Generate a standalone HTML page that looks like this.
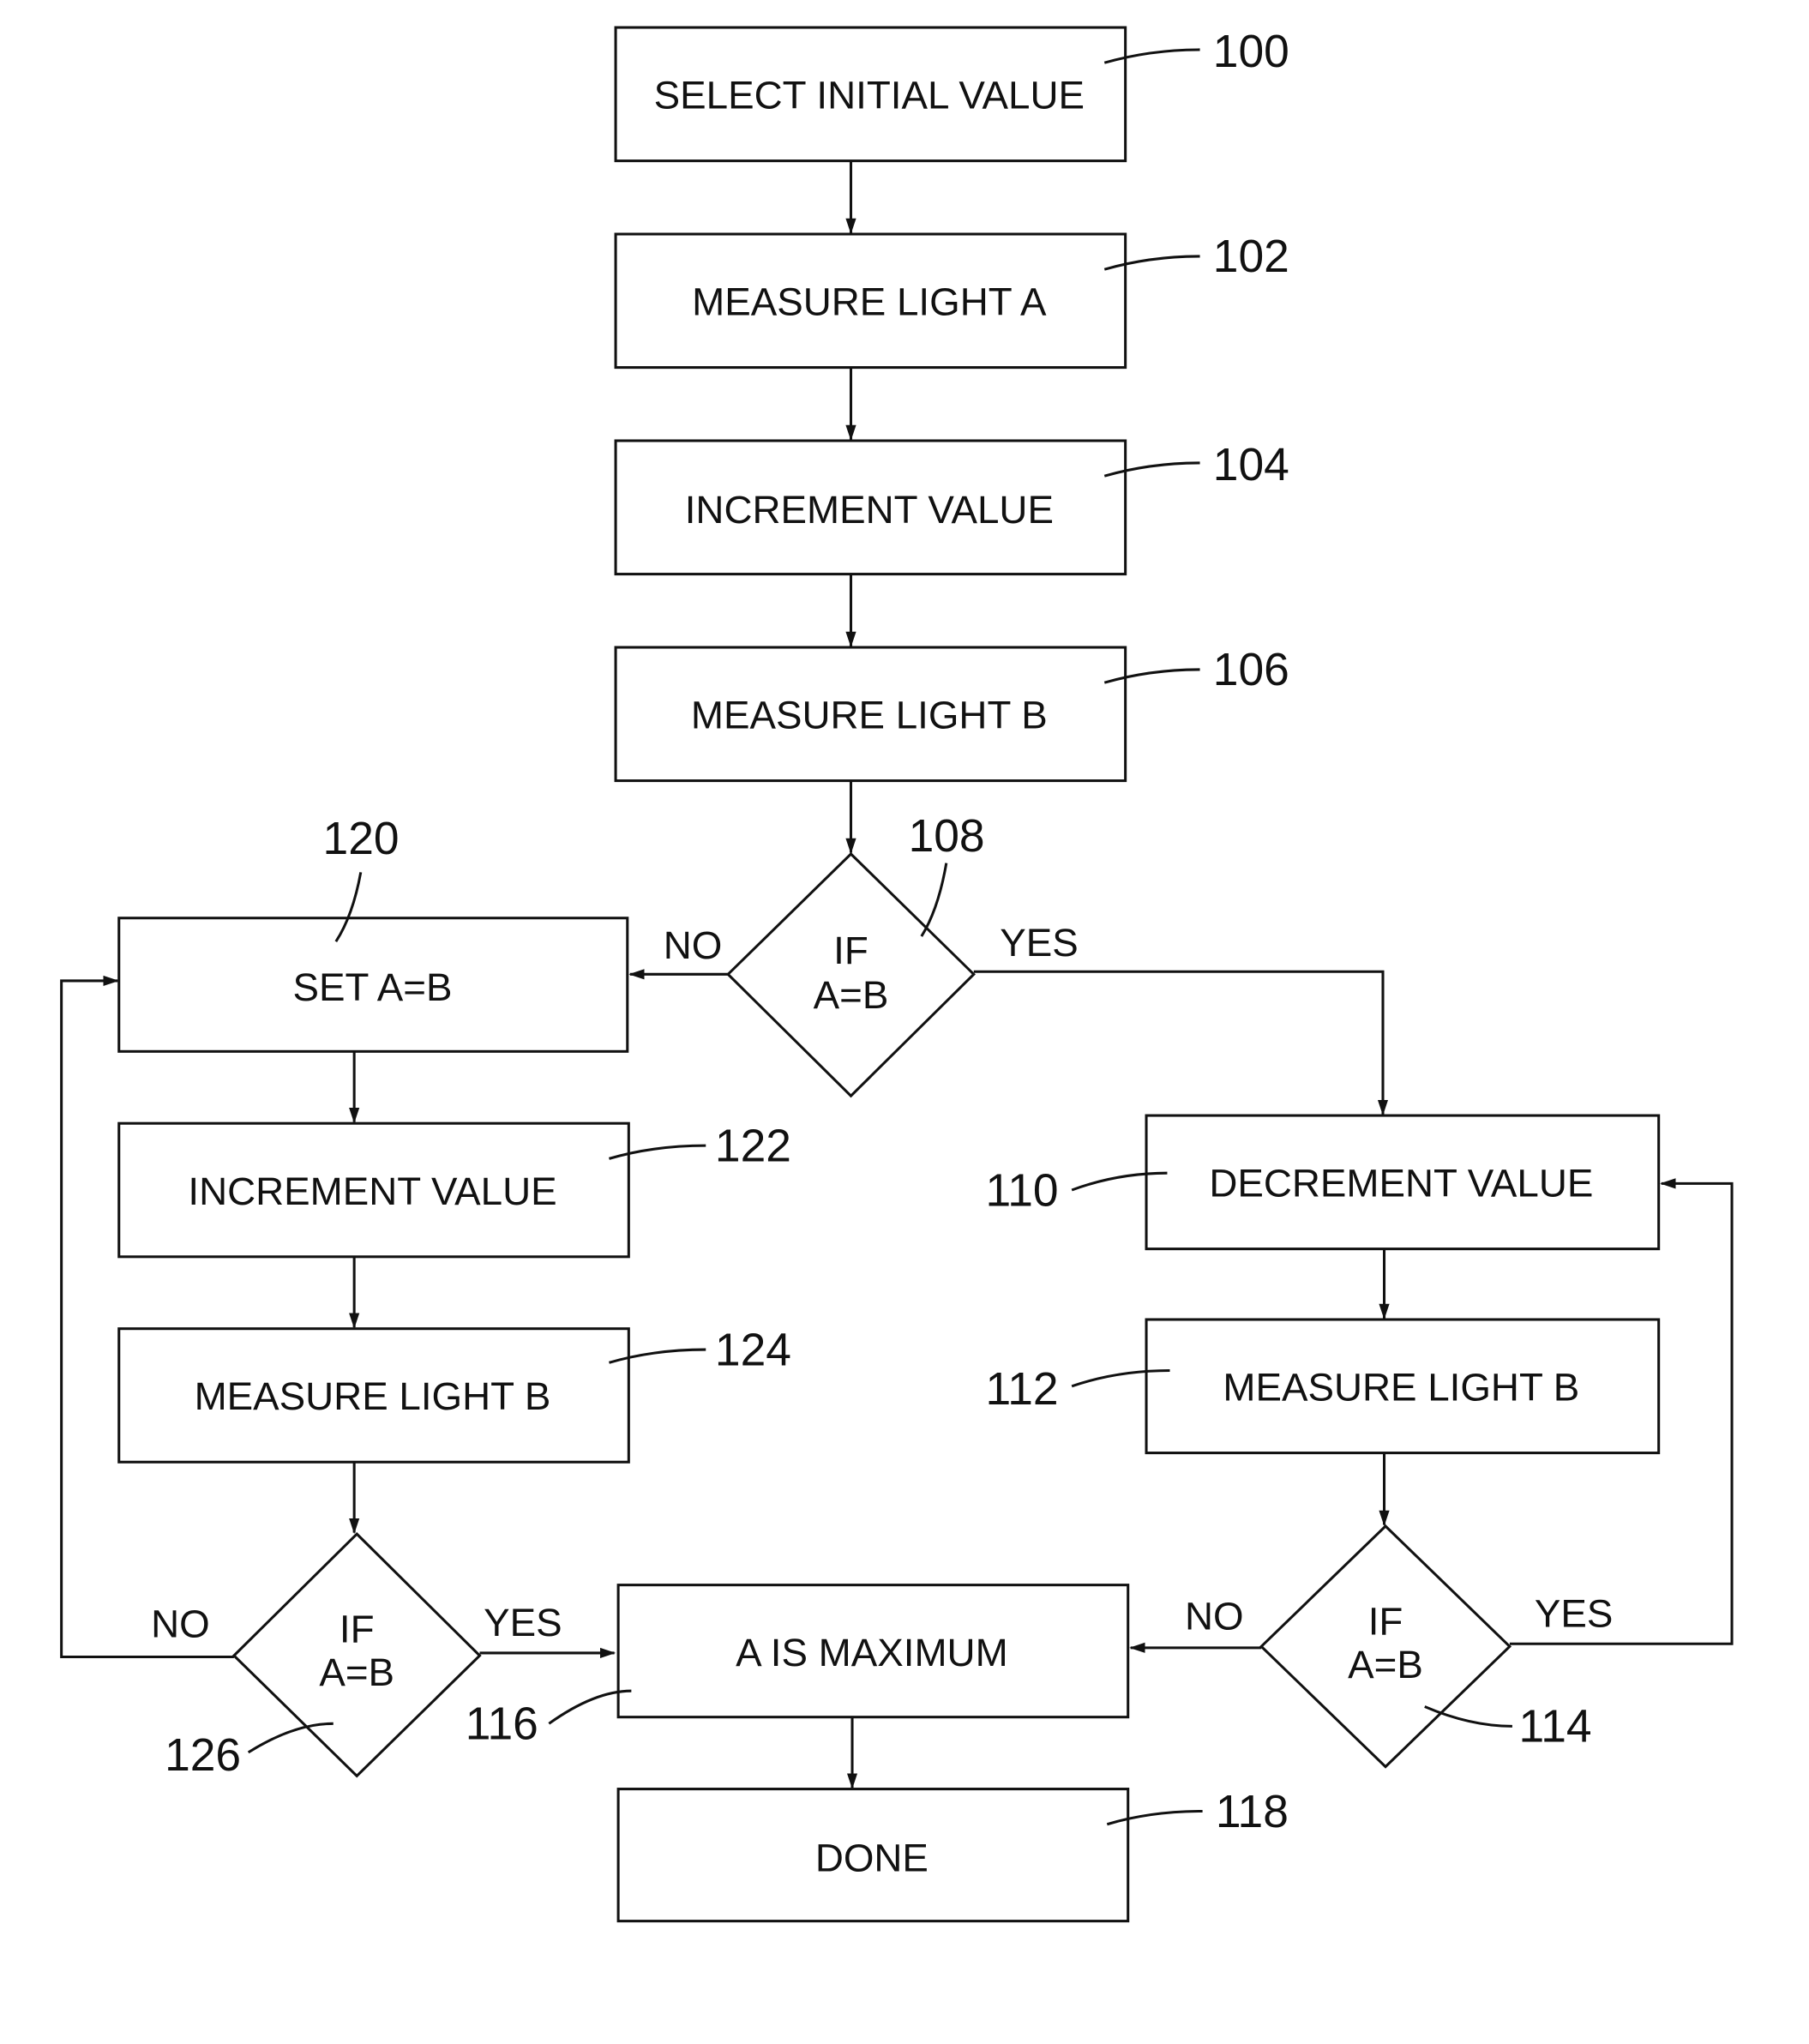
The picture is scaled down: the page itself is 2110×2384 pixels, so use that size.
<!DOCTYPE html>
<html><head><meta charset="utf-8"><style>
html,body{margin:0;padding:0;background:#fff;}
svg{display:block;}
text{font-family:"Liberation Sans",Arial,sans-serif;fill:#111;}
.t{font-size:30px;text-anchor:middle;}
.n{font-size:35px;}
</style></head><body>
<svg width="2110" height="2384" viewBox="0 0 1384 1563" preserveAspectRatio="none" xmlns="http://www.w3.org/2000/svg">
<defs><marker id="a" markerWidth="12" markerHeight="10" refX="11" refY="5" orient="auto" markerUnits="userSpaceOnUse"><path d="M0,1 L12,5 L0,9 Z" fill="#111"/></marker></defs>
<g fill="none" stroke="#111" stroke-width="2">
<rect x="471" y="21" width="390" height="102"/>
<rect x="471" y="179" width="390" height="102"/>
<rect x="471" y="337" width="390" height="102"/>
<rect x="471" y="495" width="390" height="102"/>
<polygon points="651,653 745,745 651,838 557,745"/>
<rect x="91" y="702" width="389" height="102"/>
<rect x="91" y="859" width="390" height="102"/>
<rect x="91" y="1016" width="390" height="102"/>
<polygon points="273,1173 367,1266 273,1358 179,1266"/>
<rect x="473" y="1212" width="390" height="101"/>
<rect x="473" y="1368" width="390" height="101"/>
<rect x="877" y="853" width="392" height="102"/>
<rect x="877" y="1009" width="392" height="102"/>
<polygon points="1060,1167 1155,1259 1060,1351 965,1259"/>
</g>
<g fill="none" stroke="#111" stroke-width="2" marker-end="url(#a)">
<line x1="651" y1="123" x2="651" y2="178"/>
<line x1="651" y1="281" x2="651" y2="336"/>
<line x1="651" y1="439" x2="651" y2="494"/>
<line x1="651" y1="597" x2="651" y2="652"/>
<line x1="557" y1="745" x2="482" y2="745"/>
<polyline points="745,743 1058,743 1058,852"/>
<line x1="271" y1="804" x2="271" y2="858"/>
<line x1="271" y1="961" x2="271" y2="1015"/>
<line x1="271" y1="1118" x2="271" y2="1172"/>
<polyline points="179,1267 47,1267 47,750 90,750"/>
<line x1="367" y1="1264" x2="470" y2="1264"/>
<line x1="965" y1="1260" x2="865" y2="1260"/>
<polyline points="1155,1257 1325,1257 1325,905 1271,905"/>
<line x1="1059" y1="955" x2="1059" y2="1008"/>
<line x1="1059" y1="1111" x2="1059" y2="1166"/>
<line x1="652" y1="1313" x2="652" y2="1367"/>
</g>
<g fill="none" stroke="#111" stroke-width="2">
<path d="M845,48 Q880,38 918,38"/>
<path d="M845,206 Q880,196 918,196"/>
<path d="M845,364 Q880,354 918,354"/>
<path d="M845,522 Q880,512 918,512"/>
<path d="M276,667 Q270,700 257,720"/>
<path d="M724,660 Q718,695 705,716"/>
<path d="M466,886 Q500,876 540,876"/>
<path d="M466,1042 Q500,1032 540,1032"/>
<path d="M820,910 Q855,897 893,897"/>
<path d="M820,1060 Q855,1048 895,1048"/>
<path d="M1090,1305 Q1125,1320 1157,1320"/>
<path d="M420,1318 Q455,1293 483,1293"/>
<path d="M190,1340 Q225,1318 255,1318"/>
<path d="M847,1395 Q880,1385 920,1385"/>
</g>
<text class="t" x="665" y="83">SELECT INITIAL VALUE</text>
<text class="t" x="665" y="241">MEASURE LIGHT A</text>
<text class="t" x="665" y="400">INCREMENT VALUE</text>
<text class="t" x="665" y="557">MEASURE LIGHT B</text>
<text class="t" x="651" y="737">IF</text>
<text class="t" x="651" y="771">A=B</text>
<text class="t" x="285" y="765">SET A=B</text>
<text class="t" x="285" y="921">INCREMENT VALUE</text>
<text class="t" x="285" y="1078">MEASURE LIGHT B</text>
<text class="t" x="273" y="1256">IF</text>
<text class="t" x="273" y="1289">A=B</text>
<text class="t" x="667" y="1274">A IS MAXIMUM</text>
<text class="t" x="667" y="1431">DONE</text>
<text class="t" x="1072" y="915">DECREMENT VALUE</text>
<text class="t" x="1072" y="1071">MEASURE LIGHT B</text>
<text class="t" x="1060" y="1250">IF</text>
<text class="t" x="1060" y="1283">A=B</text>
<text class="t" x="530" y="733">NO</text>
<text class="t" x="795" y="731">YES</text>
<text class="t" x="138" y="1252">NO</text>
<text class="t" x="400" y="1251">YES</text>
<text class="t" x="929" y="1246">NO</text>
<text class="t" x="1204" y="1244">YES</text>
<text class="n" x="928" y="51">100</text>
<text class="n" x="928" y="208">102</text>
<text class="n" x="928" y="367">104</text>
<text class="n" x="928" y="524">106</text>
<text class="n" x="247" y="653">120</text>
<text class="n" x="695" y="651">108</text>
<text class="n" x="547" y="888">122</text>
<text class="n" x="547" y="1044">124</text>
<text class="n" x="754" y="922">110</text>
<text class="n" x="754" y="1074">112</text>
<text class="n" x="1162" y="1332">114</text>
<text class="n" x="356" y="1330">116</text>
<text class="n" x="126" y="1354">126</text>
<text class="n" x="930" y="1397">118</text>
</svg>
</body></html>
